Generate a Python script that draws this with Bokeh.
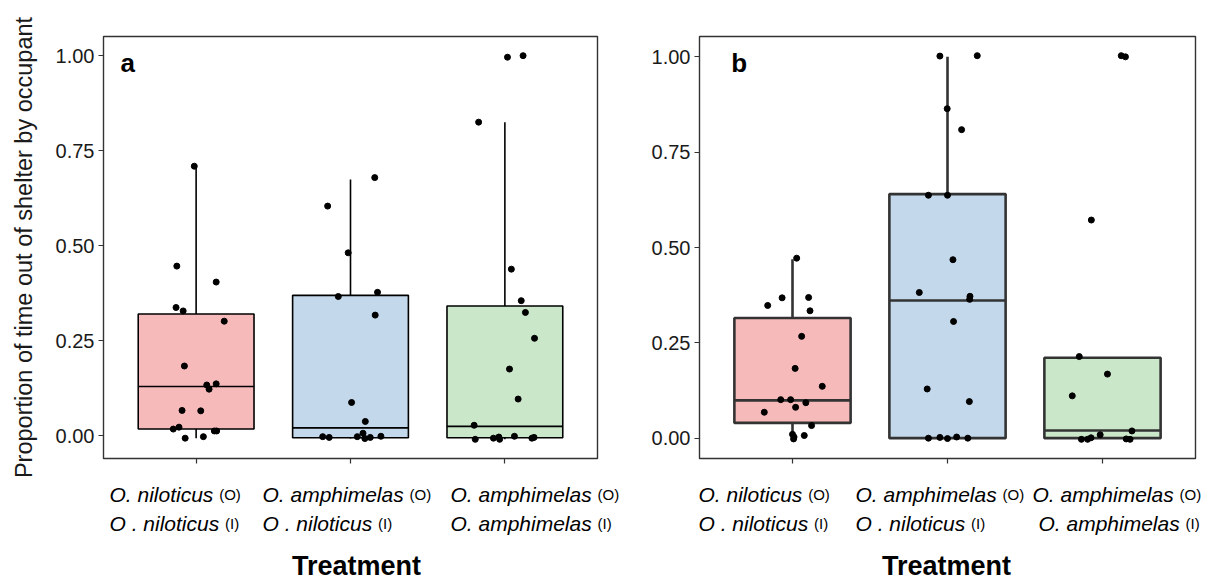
from bokeh.plotting import figure
from bokeh.models import FixedTicker, NumeralTickFormatter, Label, Range1d
from bokeh.layouts import row, column
from bokeh.core.properties import value
from bokeh.embed import file_html
from bokeh.resources import INLINE

# ---------------- data ----------------
groups = [1, 2, 3]
fills = ["#F7BABB", "#C3D8EA", "#CAE7C9"]
line1_names = ["O. niloticus", "O. amphimelas", "O. amphimelas"]
line1_tags = ["(O)", "(O)", "(O)"]
line2_names = ["O . niloticus", "O . niloticus", "O. amphimelas"]
line2_tags = ["(I)", "(I)", "(I)"]
y_ticks = [0, 0.25, 0.5, 0.75, 1.0]
x_title = "Treatment"
y_title = "Proportion of time out of shelter by occupant"

# panel a box statistics (lower whisker, q1, median, q3, upper whisker)
a_lw = [-0.007, -0.008, -0.010]
a_q1 = [0.017, -0.006, -0.006]
a_med = [0.129, 0.020, 0.024]
a_q3 = [0.320, 0.369, 0.341]
a_uw = [0.709, 0.674, 0.825]

# panel a points (jitter offset from group centre, value)
a1_dx = [-0.012, -0.125, 0.130, -0.130, -0.084, 0.182, -0.076, 0.069, 0.130, 0.084,
         -0.091, 0.030, -0.111, -0.148, 0.118, 0.133, -0.071, 0.047]
a1_y = [0.709, 0.446, 0.404, 0.337, 0.328, 0.301, 0.183, 0.133, 0.136, 0.122,
        0.066, 0.065, 0.022, 0.017, 0.012, 0.012, -0.007, -0.003]
a2_dx = [0.157, -0.148, -0.015, -0.079, 0.175, 0.160, 0.007, 0.096, 0.081, -0.180,
         -0.138, 0.044, 0.093, 0.128, 0.197]
a2_y = [0.679, 0.604, 0.481, 0.366, 0.377, 0.317, 0.087, 0.037, 0.006, -0.003,
        -0.005, -0.003, -0.008, -0.005, -0.002]
a3_dx = [0.017, 0.118, -0.170, 0.042, 0.106, 0.133, 0.192, 0.030, 0.086, -0.199,
         -0.192, -0.074, -0.039, -0.034, 0.062, 0.175, 0.189]
a3_y = [0.996, 1.000, 0.825, 0.438, 0.355, 0.324, 0.256, 0.175, 0.096, 0.027,
        -0.010, -0.007, -0.004, -0.010, -0.002, -0.007, -0.005]

# panel b box statistics
b_lw = [-0.002, 0.000, 0.000]
b_q1 = [0.040, 0.000, 0.000]
b_med = [0.099, 0.361, 0.020]
b_q3 = [0.315, 0.640, 0.211]
b_uw = [0.469, 1.000, 0.211]

b1_dx = [0.027, -0.160, -0.067, 0.104, 0.113, 0.059, 0.017, 0.192, -0.076, -0.012,
         0.086, 0.020, -0.182, 0.123, 0.000, 0.076, 0.007, 0.010]
b1_y = [0.472, 0.348, 0.368, 0.369, 0.334, 0.267, 0.183, 0.136, 0.101, 0.101,
        0.093, 0.081, 0.068, 0.033, 0.010, 0.007, -0.002, 0.003]
b2_dx = [-0.049, 0.192, -0.002, 0.091, -0.123, 0.000, 0.035, -0.182, 0.145, 0.143,
         0.039, -0.131, 0.141, -0.123, -0.049, 0.000, 0.059, 0.131]
b2_y = [1.002, 1.003, 0.864, 0.809, 0.637, 0.637, 0.468, 0.382, 0.372, 0.364,
        0.306, 0.129, 0.096, 0.000, 0.002, -0.001, 0.003, 0.000]
b3_dx = [0.121, 0.148, -0.072, -0.150, 0.032, -0.195, 0.190, -0.015, -0.136, -0.096,
         -0.074, 0.153, 0.178]
b3_y = [1.003, 1.000, 0.572, 0.214, 0.168, 0.111, 0.019, 0.009, -0.003, -0.003,
        0.001, -0.002, -0.003]

# ---------------- layout constants ----------------
FONT = "Liberation Sans"
AW = {"O": 778, ".": 278, " ": 278, "n": 556, "i": 222, "l": 222, "o": 556, "t": 278,
      "c": 500, "u": 556, "s": 500, "a": 556, "m": 833, "p": 556, "h": 556, "e": 556}


def text_w(s, size):
    return sum(AW.get(ch, 556) for ch in s) / 1000.0 * size


XR = (0.4, 3.6)
TOP_H = 481          # height of the panel row
FRAME_TOP = 36
FRAME_H = 422
BOX_W = 0.75
PAGE_W = 1213
PAGE_H = 577
BASE_FIX = 8         # alphabetic-baseline text renders this many px lower in svg


def make_panel(letter, stats, pts, yr, fw, left_border, right_border, width,
               letter_xy, line_color, line_w, with_ytitle):
    lw, q1, med, q3, uw = stats
    p = figure(width=width, height=TOP_H, x_range=XR, y_range=yr, title=None,
               output_backend="svg", toolbar_location=None,
               min_border_left=left_border, min_border_right=right_border,
               min_border_top=FRAME_TOP, min_border_bottom=TOP_H - FRAME_TOP - FRAME_H)
    p.grid.visible = False
    p.outline_line_color = "#333333"
    p.outline_line_width = 1.4
    p.background_fill_color = "white"
    p.border_fill_color = "white"

    p.yaxis.ticker = FixedTicker(ticks=y_ticks)
    p.yaxis.formatter = NumeralTickFormatter(format="0.00")
    p.xaxis.ticker = FixedTicker(ticks=groups)
    p.xaxis.major_label_overrides = {g: "" for g in groups}
    for ax in (p.xaxis, p.yaxis):
        ax.axis_line_color = None
        ax.major_tick_out = 5
        ax.major_tick_in = 0
        ax.minor_tick_line_color = None
        ax.major_tick_line_color = "#333333"
        ax.major_tick_line_width = 1.2
    p.yaxis.major_label_text_font = FONT
    p.yaxis.major_label_text_font_size = "20px"
    p.yaxis.major_label_text_color = "#1a1a1a"
    p.yaxis.major_label_standoff = 4
    if with_ytitle:
        p.yaxis.axis_label = y_title
        p.yaxis.axis_label_text_font = FONT
        p.yaxis.axis_label_text_font_size = "23.5px"
        p.yaxis.axis_label_text_font_style = "normal"
        p.yaxis.axis_label_text_color = "#1a1a1a"
        p.yaxis.axis_label_standoff = 16

    # whiskers
    p.segment(x0=groups, x1=groups, y0=q3, y1=uw, line_color=line_color, line_width=line_w)
    p.segment(x0=groups, x1=groups, y0=lw, y1=q1, line_color=line_color, line_width=line_w)
    # boxes
    p.vbar(x=groups, width=BOX_W, bottom=q1, top=q3, fill_color=fills,
           line_color=line_color, line_width=line_w)
    # medians
    p.segment(x0=[g - BOX_W / 2 for g in groups], x1=[g + BOX_W / 2 for g in groups],
              y0=med, y1=med, line_color=line_color, line_width=line_w)
    # jittered points
    for g, (ddx, yy) in zip(groups, pts):
        p.scatter(x=[g + d for d in ddx], y=yy, size=6, color="black")

    # panel letter
    p.add_layout(Label(x=letter_xy[0], y=letter_xy[1], text=letter,
                       y_offset=BASE_FIX,
                       text_font=FONT, text_font_size="26px", text_font_style="bold",
                       text_color="black", text_baseline="alphabetic"))
    return p


pa = make_panel("a", (a_lw, a_q1, a_med, a_q3, a_uw),
                [(a1_dx, a1_y), (a2_dx, a2_y), (a3_dx, a3_y)],
                (-0.0605, 1.0505), 494, 103, 51, 648, (0.51, 0.959),
                "black", 1.6, True)
pb = make_panel("b", (b_lw, b_q1, b_med, b_q3, b_uw),
                [(b1_dx, b1_y), (b2_dx, b2_y), (b3_dx, b3_y)],
                (-0.0533, 1.0533), 498, 49, 18, 565, (0.605, 0.962),
                "#333333", 2.6, False)

# ---------------- text strip below the panels (page-pixel coordinates) ----------------
bottom = figure(width=PAGE_W, height=PAGE_H - TOP_H, title=None,
                x_range=Range1d(0, PAGE_W), y_range=Range1d(PAGE_H, TOP_H),
                output_backend="svg", toolbar_location=None,
                min_border=0, min_border_left=0, min_border_right=0,
                min_border_top=0, min_border_bottom=0)
bottom.axis.visible = False
bottom.grid.visible = False
bottom.outline_line_color = None
bottom.background_fill_color = "white"
bottom.border_fill_color = "white"

# left edges (page px) of the category labels: panel a then panel b
line1_left = [109, 262, 450, 698, 855, 1032]
line2_left = [109, 262, 450, 698, 855, 1038]
LINE1_BASE, LINE2_BASE, TITLE_BASE = 502, 531, 573
NAME_SIZE, TAG_SIZE = 21, 15

for names, tags, lefts, base in ((line1_names, line1_tags, line1_left, LINE1_BASE),
                                 (line2_names, line2_tags, line2_left, LINE2_BASE)):
    nm = names + names
    tg = tags + tags
    ys = [base - BASE_FIX] * len(lefts)
    bottom.text(x=lefts, y=ys, text=nm,
                text_font=value(FONT), text_font_size=f"{NAME_SIZE}px",
                text_font_style="italic", text_color="black",
                text_baseline="alphabetic", text_align="left")
    bottom.text(x=[l + text_w(n + " ", NAME_SIZE) for l, n in zip(lefts, nm)],
                y=ys, text=tg,
                text_font=value(FONT), text_font_size=f"{TAG_SIZE}px",
                text_font_style="normal", text_color="black",
                text_baseline="alphabetic", text_align="left")

bottom.text(x=[356, 946], y=[TITLE_BASE - BASE_FIX] * 2, text=[x_title, x_title],
            text_font=value(FONT), text_font_size="27px", text_font_style="bold",
            text_color="black", text_baseline="alphabetic", text_align="center")

layout = column(row(pa, pb), bottom)
open("out.html", "w").write(file_html(layout, INLINE))
